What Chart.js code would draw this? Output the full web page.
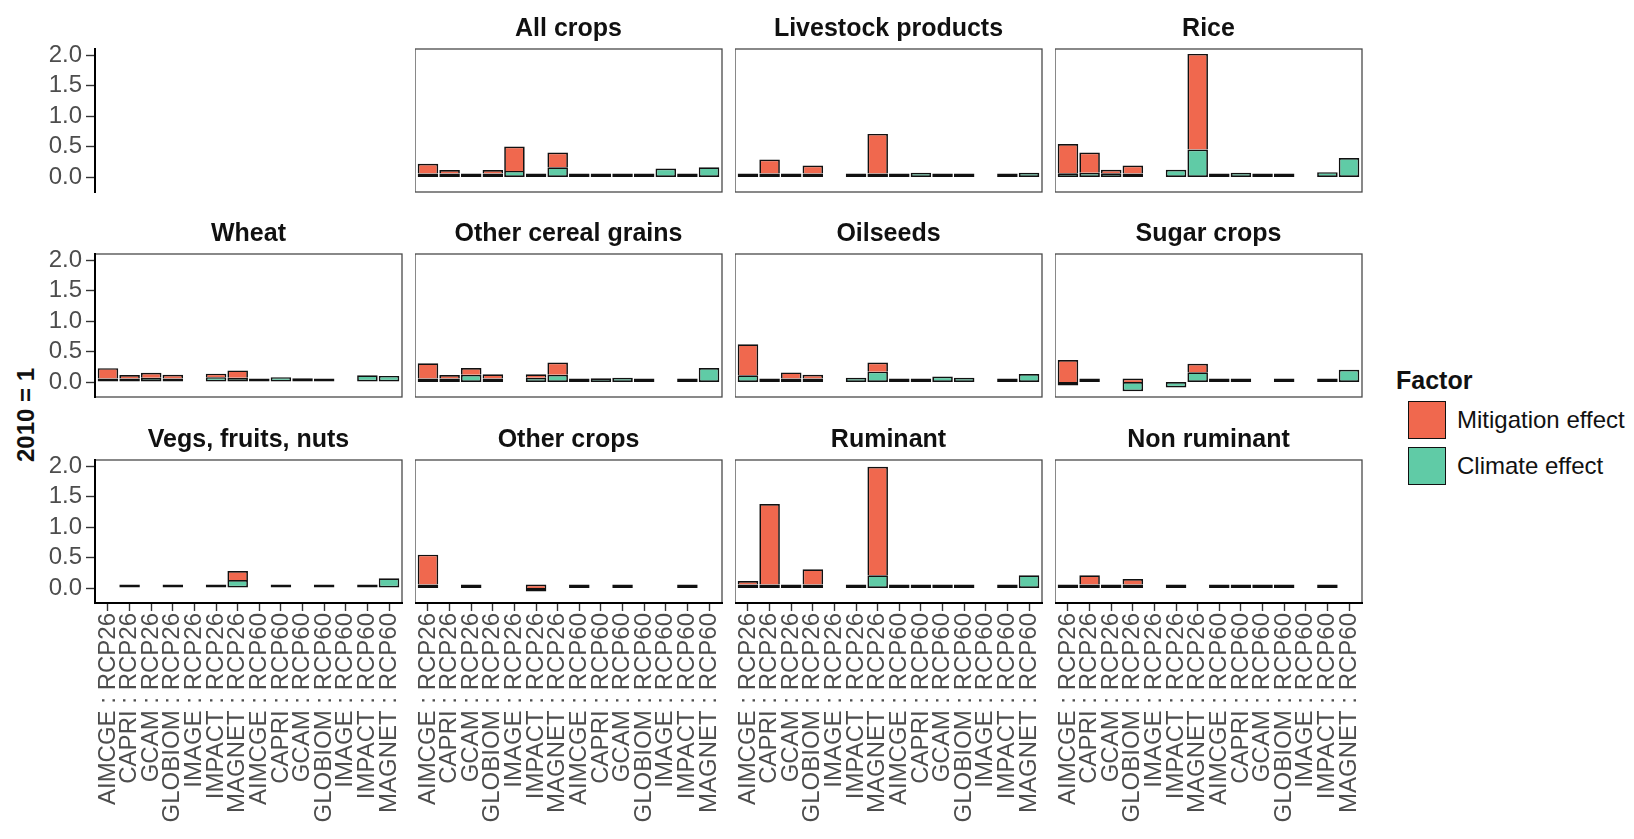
<!DOCTYPE html>
<html>
<head>
<meta charset="utf-8">
<script src="https://cdn.jsdelivr.net/npm/chart.js@4.4.1/dist/chart.umd.min.js"></script>
<style>
  html, body { margin: 0; padding: 0; background: #fff; }
  body { width: 1634px; height: 839px; position: relative; overflow: hidden;
         font-family: "Liberation Sans", Arial, sans-serif; }
  canvas { position: absolute; }
  .strip { position: absolute; width: 307px; text-align: center; font-weight: bold;
           font-size: 25px; line-height: 30px; color: #111; white-space: nowrap; }
  #ytitle { position: absolute; left: 26px; top: 415px; transform: translate(-50%, -50%) rotate(-90deg);
            font-weight: bold; font-size: 24px; color: #111; white-space: nowrap; }
  .legend-title { position: absolute; font-weight: bold; font-size: 25px; color: #111; }
  .key { position: absolute; width: 38px; height: 38px; border: 1.8px solid #111; box-sizing: border-box; }
  .key-label { position: absolute; font-size: 24px; color: #111; white-space: nowrap; line-height: 28px; }
</style>
</head>
<body>
<div id="ytitle">2010 = 1</div>
<script>
// ---- categories and tick labels ----
const categories = [
  'AIMCGE : RCP26', 'CAPRI : RCP26', 'GCAM : RCP26', 'GLOBIOM : RCP26', 'IMAGE : RCP26', 'IMPACT : RCP26', 'MAGNET : RCP26',
  'AIMCGE : RCP60', 'CAPRI : RCP60', 'GCAM : RCP60', 'GLOBIOM : RCP60', 'IMAGE : RCP60', 'IMPACT : RCP60', 'MAGNET : RCP60'
];
const yTicks = [0, 0.5, 1.0, 1.5, 2.0];
const factorLabels = ['Mitigation effect', 'Climate effect'];
const panelTitles = ['', 'All crops', 'Livestock products', 'Rice',
                     'Wheat', 'Other cereal grains', 'Oilseeds', 'Sugar crops',
                     'Vegs, fruits, nuts', 'Other crops', 'Ruminant', 'Non ruminant'];

// ---- series values (2010 = 1), one pair per commodity ----
const N = null;
const allCropsClimate       = [0.02, 0.03, 0.03, 0.01, 0.10, 0.03, 0.16,  0.01, 0.04, 0.01, 0.03, 0.14, 0.05, 0.16];
const allCropsMitigation    = [0.16, 0.03, N,    0.04, 0.40, N,    0.24,  N, N, N, N, N, N, N];
const livestockClimate      = [0.03, 0.05, 0.04, 0.01, N,    0.01, 0.05,  0.005, 0.07, 0.005, 0.03, N, 0.01, 0.07];
const livestockMitigation   = [N,    0.23, N,    0.13, N,    N,    0.65,  N, N, N, N, N, N, N];
const riceClimate           = [0.06, 0.07, 0.06, 0.01, N,    0.12, 0.45,  0.05, 0.07, 0.01, 0.03, N, 0.08, 0.31];
const riceMitigation        = [0.48, 0.33, 0.03, 0.13, N,    N,    1.57,  N, N, N, N, N, N, N];
const wheatClimate          = [0.02, 0.05, 0.07, 0.02, N,    0.08, 0.07,  0.01, 0.08, 0.06, 0.02, N, 0.11, 0.10];
const wheatMitigation       = [0.17, 0.05, 0.08, 0.06, N,    0.03, 0.12,  N, N, N, N, N, N, N];
const otherCerealClimate    = [0.02, 0.03, 0.12, 0.01, N,    0.07, 0.12,  0.01, 0.06, 0.07, 0.03, N, 0.05, 0.23];
const otherCerealMitigation = [0.25, 0.04, 0.11, 0.07, N,    0.02, 0.20,  N, N, N, N, N, N, N];
const oilseedsClimate       = [0.11, 0.05, 0.05, 0.02, N,    0.07, 0.17,  0.005, 0.03, 0.09, 0.07, N, 0.02, 0.13];
const oilseedsMitigation    = [0.51, N,    0.10, 0.06, N,    N,    0.15,  N, N, N, N, N, N, N];
const sugarClimate          = [-0.02, 0.04, N,  -0.15, N,   -0.09, 0.16,  0.02, 0.03, N, 0.005, N, 0.005, 0.20];
const sugarMitigation       = [0.36, N,    N,    0.01, N,    N,    0.14,  N, N, N, N, N, N, N];
const vegsClimate           = [N,    0.03, N,    0.03, N,    0.01, 0.13,  N, 0.03, N, 0.01, N, 0.04, 0.16];
const vegsMitigation        = [N,    N,    N,    N,    N,    N,    0.15,  N, N, N, N, N, N, N];
const otherCropsClimate     = [0.03, N,    0.01, N,    N,   -0.03, N,     0.005, N, 0.005, N, N, 0.03, N];
const otherCropsMitigation  = [0.49, N,    N,    N,    N,    0.03, N,     N, N, N, N, N, N, N];
const ruminantClimate       = [0.01, 0.01, 0.04, 0.01, N,    0.02, 0.21,  0.005, 0.03, 0.01, 0.01, N, 0.005, 0.21];
const ruminantMitigation    = [0.02, 1.32, N,    0.25, N,    N,    1.78,  N, N, N, N, N, N, N];
const nonRuminantClimate    = [0.01, 0.01, 0.02, 0.01, N,    0.02, N,     0.005, 0.01, 0.01, 0.01, N, 0.01, N];
const nonRuminantMitigation = [N,    0.15, N,    0.09, N,    N,    N,     N, N, N, N, N, N, N];

const panelClimate = [null, allCropsClimate, livestockClimate, riceClimate,
                      wheatClimate, otherCerealClimate, oilseedsClimate, sugarClimate,
                      vegsClimate, otherCropsClimate, ruminantClimate, nonRuminantClimate];
const panelMitigation = [null, allCropsMitigation, livestockMitigation, riceMitigation,
                         wheatMitigation, otherCerealMitigation, oilseedsMitigation, sugarMitigation,
                         vegsMitigation, otherCropsMitigation, ruminantMitigation, nonRuminantMitigation];

// ---- layout & style ----
const COL_LEFT = [95, 415, 735, 1055];
const ROW_TOP = [49, 254, 460];
const PLOT_W = 307, PLOT_H = 143;
const Y_AXIS_W = 95, X_AXIS_H = 232;
const Y_MIN = -0.246, Y_MAX = 2.1;
const RED = '#F0684E', GREEN = '#60CBA6', EDGE = '#111111';
const FONT = '"Liberation Sans", Arial, sans-serif';

// panel frame, drawn before the scales so the axis lines sit on top
const framePlugin = {
  id: 'panelFrame',
  beforeDraw(chart, args, opts) {
    if (!opts.show) return;
    const a = chart.chartArea, ctx = chart.ctx;
    ctx.save();
    ctx.strokeStyle = '#4a4a4a';
    ctx.lineWidth = 1.3;
    ctx.strokeRect(a.left, a.top, a.right - a.left, a.bottom - a.top);
    ctx.restore();
  }
};

function makePanel(slot) {
  const r = Math.floor(slot / 4), c = slot % 4;
  const showY = c === 0, showX = r === 2;
  const empty = panelClimate[slot] === null;
  const padT = 14, padR = 3, padB = 3;
  const yW = showY ? Y_AXIS_W : 0;
  const xH = showX ? X_AXIS_H : 0;
  const w = yW + PLOT_W + padR, h = padT + PLOT_H + xH + padB;

  const cv = document.createElement('canvas');
  cv.width = w; cv.height = h;
  cv.style.left = (COL_LEFT[c] - yW) + 'px';
  cv.style.top = (ROW_TOP[r] - padT) + 'px';
  cv.style.width = w + 'px'; cv.style.height = h + 'px';
  document.body.appendChild(cv);

  if (panelTitles[slot]) {
    const t = document.createElement('div');
    t.className = 'strip';
    t.textContent = panelTitles[slot];
    t.style.left = COL_LEFT[c] + 'px';
    t.style.top = (ROW_TOP[r] - 37) + 'px';
    document.body.appendChild(t);
  }

  const barStyle = { borderColor: EDGE, borderWidth: 1.7, minBarLength: 3.5,
                     barPercentage: 0.95, categoryPercentage: 1 };
  const datasets = empty ? [] : [
    Object.assign({ label: factorLabels[1], data: panelClimate[slot], backgroundColor: GREEN,
                    borderSkipped: false }, barStyle),
    Object.assign({ label: factorLabels[0], data: panelMitigation[slot], backgroundColor: RED,
                    borderSkipped: 'start' }, barStyle)
  ];

  new Chart(cv, {
    type: 'bar',
    data: { labels: categories, datasets },
    plugins: [framePlugin],
    options: {
      responsive: false,
      animation: false,
      devicePixelRatio: 1,
      layout: { padding: { top: padT, right: padR, bottom: padB, left: 0 } },
      plugins: { legend: { display: false }, tooltip: { enabled: false },
                 panelFrame: { show: !empty } },
      scales: {
        x: {
          type: 'category', stacked: true, display: showX, offset: true,
          // discrete axis expanded by 0.6 of a category on each side
          afterBuildTicks: s => { s._startValue = -0.6; s._valueRange = categories.length - 1 + 1.2; },
          afterFit: s => { s.height = xH; s.paddingLeft = 0; s.paddingRight = 0; },
          grid: { display: true, drawOnChartArea: false, drawTicks: true, tickLength: 8,
                  tickWidth: 1.4, tickColor: '#333', offset: false },
          border: { display: true, color: '#000', width: 2 },
          ticks: { autoSkip: false, maxRotation: 90, minRotation: 90, padding: 2,
                   color: '#4d4d4d', font: { family: FONT, size: 24 } }
        },
        y: {
          stacked: true, display: showY, min: Y_MIN, max: Y_MAX,
          afterBuildTicks: s => { s.ticks = yTicks.map(v => ({ value: v })); },
          afterFit: s => { s.width = yW; s.paddingTop = 0; s.paddingBottom = 0; },
          grid: { display: true, drawOnChartArea: false, drawTicks: true, tickLength: 9,
                  tickWidth: 1.4, tickColor: '#333' },
          border: { display: true, color: '#000', width: 2 },
          ticks: { padding: 4, color: '#4d4d4d', font: { family: FONT, size: 24 },
                   callback: v => Number(v).toFixed(1) }
        }
      }
    }
  });
}

for (let i = 0; i < 12; i++) makePanel(i);

// ---- legend ----
(function legend() {
  const title = document.createElement('div');
  title.className = 'legend-title';
  title.textContent = 'Factor';
  title.style.left = '1396px'; title.style.top = '366px';
  document.body.appendChild(title);
  const fills = [RED, GREEN];
  factorLabels.forEach((lab, i) => {
    const k = document.createElement('div');
    k.className = 'key';
    k.style.left = '1408px'; k.style.top = (401 + i * 46) + 'px';
    k.style.background = fills[i];
    document.body.appendChild(k);
    const l = document.createElement('div');
    l.className = 'key-label';
    l.textContent = lab;
    l.style.left = '1457px'; l.style.top = (406 + i * 46) + 'px';
    document.body.appendChild(l);
  });
})();
</script>
</body>
</html>
